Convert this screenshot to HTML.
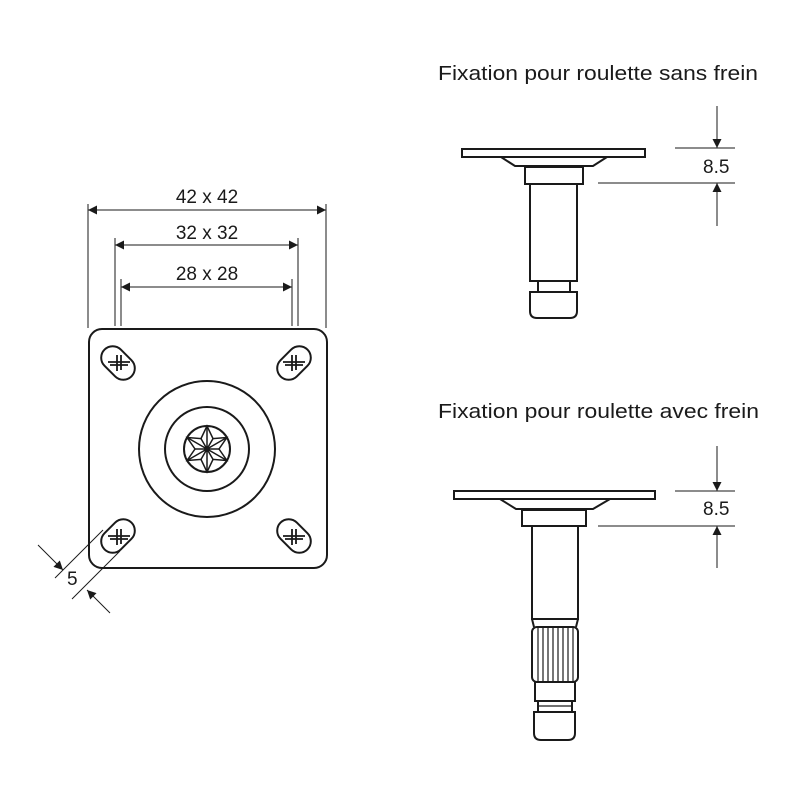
<!DOCTYPE html>
<html><head><meta charset="utf-8"><style>html,body{margin:0;padding:0;background:#fff}svg{display:block}</style></head>
<body>
<svg width="800" height="800" viewBox="0 0 800 800" xmlns="http://www.w3.org/2000/svg" font-family="Liberation Sans, sans-serif" fill="none" stroke="#1a1a1a">
<defs>
<marker id="a" viewBox="0 0 10 10" refX="10" refY="5" markerWidth="16" markerHeight="9" markerUnits="userSpaceOnUse" orient="auto-start-reverse"><path d="M0,0 L10,5 L0,10 z" fill="#1a1a1a" stroke="none"/></marker>
<g id="slot"><rect x="-19" y="-11.5" width="38" height="23" rx="11.5" stroke-width="2"/></g>
<g id="cross" stroke-width="1.8"><line x1="-11" y1="-1" x2="11" y2="-1"/><line x1="-9" y1="2" x2="9" y2="2"/><line x1="-2" y1="-8" x2="-2" y2="8"/><line x1="2" y1="-8" x2="2" y2="7"/></g>
</defs>
<g fill="#1a1a1a" stroke="none" font-size="20">
<text x="438" y="80" textLength="320" lengthAdjust="spacingAndGlyphs">Fixation pour roulette sans frein</text>
<text x="438" y="418" textLength="321" lengthAdjust="spacingAndGlyphs">Fixation pour roulette avec frein</text>
<text x="703" y="173" font-size="19">8.5</text>
<text x="703" y="515" font-size="19">8.5</text>
<text x="207" y="203" font-size="19" text-anchor="middle">42 x 42</text>
<text x="207" y="239" font-size="19" text-anchor="middle">32 x 32</text>
<text x="207" y="280" font-size="19" text-anchor="middle">28 x 28</text>
<text x="67" y="585" font-size="19">5</text>
</g>
<g stroke-width="1">
<line x1="88" y1="204" x2="88" y2="328"/><line x1="326" y1="204" x2="326" y2="328"/>
<line x1="115" y1="238" x2="115" y2="326"/><line x1="298" y1="238" x2="298" y2="326"/>
<line x1="121" y1="279" x2="121" y2="326"/><line x1="292" y1="279" x2="292" y2="326"/>
<line x1="88" y1="210" x2="326" y2="210" marker-start="url(#a)" marker-end="url(#a)"/>
<line x1="115" y1="245" x2="298" y2="245" marker-start="url(#a)" marker-end="url(#a)"/>
<line x1="121" y1="287" x2="292" y2="287" marker-start="url(#a)" marker-end="url(#a)"/>
<line x1="55" y1="578" x2="103" y2="530"/>
<line x1="72" y1="599" x2="120" y2="551"/>
<line x1="38" y1="545" x2="63" y2="570" marker-end="url(#a)"/>
<line x1="110" y1="613" x2="87" y2="590" marker-end="url(#a)"/>
</g>
<rect x="89" y="329" width="238" height="239" rx="13" stroke-width="2"/>
<circle cx="207" cy="449" r="68" stroke-width="2"/>
<circle cx="207" cy="449" r="42" stroke-width="2"/>
<circle cx="207" cy="449" r="23" stroke-width="2"/>
<g stroke-width="1.5" transform="translate(207,449) rotate(30)">
<path d="M23,0 L10.4,6 L11.5,19.9 L0,12 L-11.5,19.9 L-10.4,6 L-23,0 L-10.4,-6 L-11.5,-19.9 L0,-12 L11.5,-19.9 L10.4,-6 Z"/>
<path d="M-23,0 L23,0 M-11.5,-19.9 L11.5,19.9 M11.5,-19.9 L-11.5,19.9 M10.4,6 L-10.4,-6 M0,12 L0,-12 M-10.4,6 L10.4,-6"/>
</g>
<use href="#slot" transform="translate(118,363) rotate(45)"/><use href="#cross" transform="translate(119,363)"/>
<use href="#slot" transform="translate(294,363) rotate(-45)"/><use href="#cross" transform="translate(294,363)"/>
<use href="#slot" transform="translate(118,536) rotate(-45)"/><use href="#cross" transform="translate(119,537)"/>
<use href="#slot" transform="translate(294,536) rotate(45)"/><use href="#cross" transform="translate(294,537)"/>
<g stroke-width="2">
<rect x="462" y="149" width="183" height="8"/>
<path d="M501,157 L515,166 L593,166 L607,157"/>
<rect x="525" y="167" width="58" height="17"/>
<rect x="530" y="184" width="47" height="97"/>
<rect x="538" y="281" width="32" height="11"/>
<path d="M530,292 L577,292 L577,311 Q577,318 570,318 L537,318 Q530,318 530,311 Z"/>
</g>
<g stroke-width="1">
<line x1="675" y1="148" x2="735" y2="148"/><line x1="598" y1="183" x2="735" y2="183"/>
<line x1="717" y1="106" x2="717" y2="148" marker-end="url(#a)"/>
<line x1="717" y1="226" x2="717" y2="183" marker-end="url(#a)"/>
<line x1="675" y1="491" x2="735" y2="491"/><line x1="598" y1="526" x2="735" y2="526"/>
<line x1="717" y1="446" x2="717" y2="491" marker-end="url(#a)"/>
<line x1="717" y1="568" x2="717" y2="526" marker-end="url(#a)"/>
</g>
<g stroke-width="2">
<rect x="454" y="491" width="201" height="8"/>
<path d="M500,499 L516,509 L593,509 L610,499"/>
<rect x="522" y="510" width="64" height="16"/>
<rect x="532" y="526" width="46" height="93"/>
<path d="M532,619 L534,627 M578,619 L576,627"/>
<rect x="532" y="627" width="46" height="55" rx="5"/>
<rect x="535" y="682" width="40" height="19"/>
<rect x="538" y="701" width="34" height="11"/>
<path d="M534,712 L575,712 L575,733 Q575,740 568,740 L541,740 Q534,740 534,733 Z"/>
</g>
<g stroke-width="1.2">
<path d="M538,628 L538,682 M543,628 L543,682 M548,628 L548,682 M553,628 L553,682 M558,628 L558,682 M563,628 L563,682 M568,628 L568,682 M573,628 L573,682"/>
<line x1="538" y1="706" x2="572" y2="706"/>
</g>
</svg>
</body></html>
